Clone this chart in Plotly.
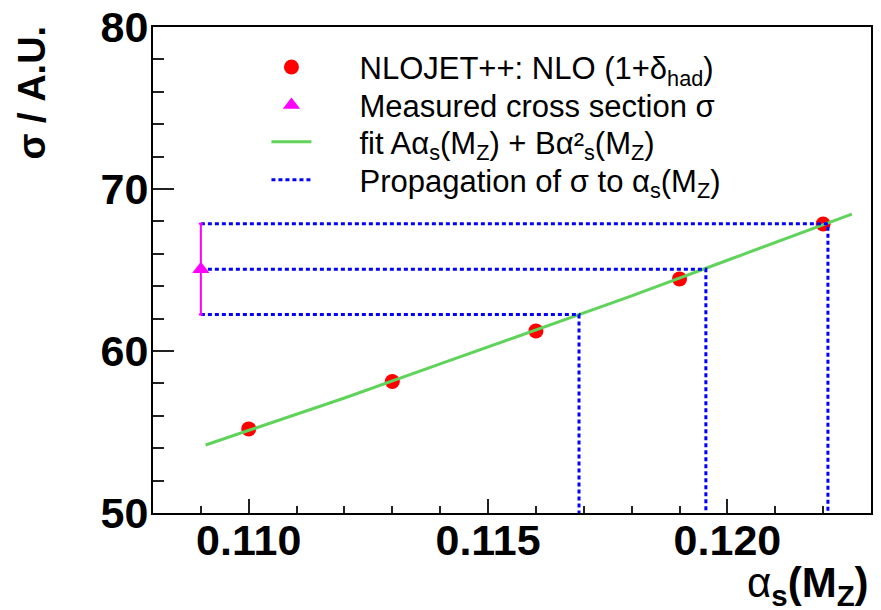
import plotly.graph_objects as go

# NLO predictions (1+delta_had) at several alpha_s(MZ) values
alpha_nlo = [0.110, 0.113, 0.116, 0.119, 0.122]
sigma_nlo = [55.19, 58.12, 61.24, 64.45, 67.84]

# Fit curve
alpha_fit = [0.1091, 0.110, 0.112, 0.114, 0.116, 0.118, 0.120, 0.122, 0.1226]
sigma_fit = [54.2, 55.1, 57.1, 59.2, 61.3, 63.4, 65.6, 67.8, 68.45]

# Measured cross section
alpha_meas = [0.109]
sigma_meas = [65.05]
sigma_err = [2.8]

# Propagation: sigma levels (low, central, high) and corresponding alpha_s
prop_sigma = [62.25, 65.05, 67.85]
prop_alpha = [0.1169, 0.11955, 0.1221]
y_floor = 50

FONT = "Liberation Sans, Arial, Helvetica, sans-serif"
PAD = "\u00a0" * 5

px_, py_ = [], []
for s, a in zip(prop_sigma, prop_alpha):
    px_ += [alpha_meas[0], a, a, None]
    py_ += [s, s, y_floor, None]

fig = go.Figure()

fig.add_trace(go.Scatter(
    x=alpha_nlo, y=sigma_nlo, mode="markers",
    marker=dict(symbol="circle", size=15, color="#ff0000"),
    name=PAD + "NLOJET++: NLO (1+δ<sub>had</sub>)", legend="legend"))

fig.add_trace(go.Scatter(
    x=alpha_fit, y=sigma_fit, mode="lines",
    line=dict(color="#5fd35a", width=3),
    name=PAD + "fit Aα<sub>s</sub>(M<sub>Z</sub>) + Bα²<sub>s</sub>(M<sub>Z</sub>)",
    legend="legend3"))

fig.add_trace(go.Scatter(
    x=px_, y=py_, mode="lines",
    line=dict(color="#0000ff", width=3, dash="4px,3px"),
    name=PAD + "Propagation of σ to α<sub>s</sub>(M<sub>Z</sub>)", legend="legend4"))

fig.add_trace(go.Scatter(
    x=alpha_meas, y=sigma_meas, mode="markers",
    marker=dict(symbol="triangle-up", size=15, color="#ff00ff"),
    error_y=dict(type="data", array=sigma_err, color="#ff00ff",
                 thickness=2, width=2),
    name=PAD + "Measured cross section σ", legend="legend2"))


def leg(yc):
    return dict(x=0.158, y=yc, xanchor="left", yanchor="middle",
                font=dict(size=31, family=FONT, color="black"),
                bgcolor="rgba(0,0,0,0)", itemwidth=40)


# page body has an 8px offset; margins compensate so the frame sits where the reference has it
fig.update_layout(
    width=881, height=610,
    margin=dict(l=145, r=18, t=19, b=105, autoexpand=False),
    paper_bgcolor="white", plot_bgcolor="white",
    font=dict(family=FONT, color="black"),
    showlegend=True,
    legend=leg(0.917), legend2=leg(0.839), legend3=leg(0.763), legend4=leg(0.685),
    xaxis=dict(range=[0.108, 0.123], showgrid=False, zeroline=False,
               automargin=False,
               showline=True, mirror=True, linecolor="black", linewidth=2,
               ticks="inside", ticklen=14, tickwidth=1.5, tickcolor="#222",
               dtick=0.005, tick0=0.110, tickformat=".3f",
               tickfont=dict(size=43, family=FONT, weight="bold"),
               ticklabelstandoff=-12, ticklabeloverflow="allow",
               minor=dict(ticks="inside", ticklen=7, dtick=0.001,
                          tickcolor="#222", tickwidth=1.5)),
    yaxis=dict(range=[50, 80], showgrid=False, zeroline=False,
               automargin=False,
               showline=True, mirror=True, linecolor="black", linewidth=2,
               ticks="inside", ticklen=21, tickwidth=1.5, tickcolor="#222",
               dtick=10, tick0=50,
               tickfont=dict(size=43, family=FONT, weight="bold"),
               ticklabelstandoff=-6, ticklabeloverflow="allow",
               minor=dict(ticks="inside", ticklen=11, dtick=2,
                          tickcolor="#222", tickwidth=1.5)),
    annotations=[
        dict(text="<b>σ / A.U.</b>", textangle=-90, xref="paper", yref="paper",
             x=-0.168, y=1.008, xanchor="center", yanchor="top",
             showarrow=False, font=dict(size=38, family=FONT, color="black")),
        dict(text="α<sub><b>s</b></sub><b>(M<sub>Z</sub>)</b>", xref="paper", yref="paper",
             x=1.0, y=-0.207, xanchor="right", yanchor="bottom",
             showarrow=False, font=dict(size=42, family=FONT, color="black")),
    ],
)

fig.write_html("out.html")
